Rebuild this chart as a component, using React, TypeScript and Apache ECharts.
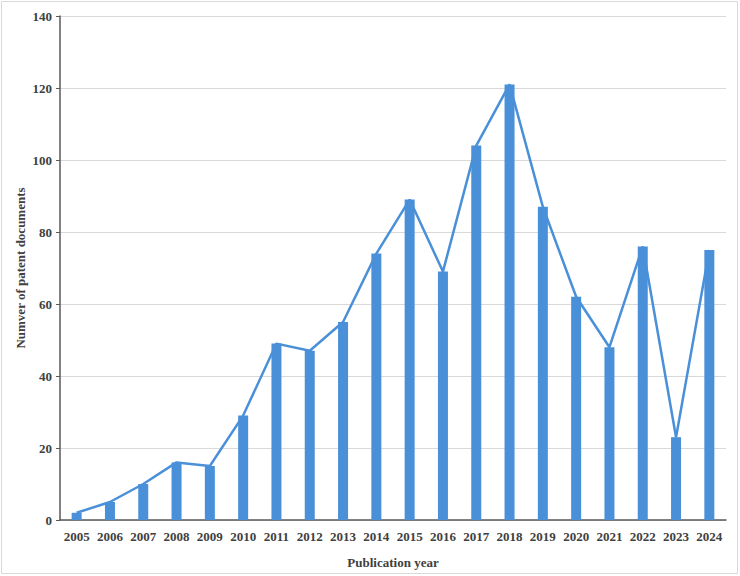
import React, { useEffect, useRef } from "react";
import * as echarts from "echarts";

const years = ["2005","2006","2007","2008","2009","2010","2011","2012","2013","2014","2015","2016","2017","2018","2019","2020","2021","2022","2023","2024"];
const counts = [2, 5, 10, 16, 15, 29, 49, 47, 55, 74, 89, 69, 104, 121, 87, 62, 48, 76, 23, 75];

const FONT = "Liberation Serif";
const BLUE = "#4a90d9";

export default function App() {
  const ref = useRef<HTMLDivElement>(null);
  useEffect(() => {
    const chart = echarts.init(ref.current!, null, { renderer: "svg" });
    chart.setOption({
      animation: false,
      backgroundColor: "#ffffff",
      graphic: [
        {
          type: "rect",
          shape: { x: 1.5, y: 1.5, width: 736, height: 572 },
          style: { fill: "none", stroke: "#d9d9d9", lineWidth: 1 },
          silent: true,
        },
      ],
      grid: { left: 60, right: 14, top: 16, bottom: 56 },
      xAxis: {
        type: "category",
        data: years,
        name: "Publication year",
        nameLocation: "middle",
        nameGap: 36,
        nameTextStyle: { fontFamily: FONT, fontWeight: "bold", fontSize: 13, color: "#404040" },
        axisLine: { lineStyle: { color: "#595959", width: 1.5 } },
        axisTick: { show: false },
        axisLabel: { interval: 0, fontFamily: FONT, fontWeight: "bold", fontSize: 13, color: "#404040", margin: 10 },
      },
      yAxis: {
        type: "value",
        min: 0,
        max: 140,
        interval: 20,
        name: "Numver of patent documents",
        nameLocation: "middle",
        nameGap: 33,
        nameMoveOverlap: false,
        nameTextStyle: { fontFamily: FONT, fontWeight: "bold", fontSize: 13, color: "#404040" },
        axisLine: { show: true, lineStyle: { color: "#595959", width: 1.5 } },
        axisTick: { show: true, length: 4, lineStyle: { color: "#595959" } },
        axisLabel: { fontFamily: FONT, fontWeight: "bold", fontSize: 13, color: "#404040", margin: 8 },
        splitLine: { lineStyle: { color: "#d9d9d9", width: 1 } },
      },
      series: [
        {
          type: "bar",
          data: counts,
          barWidth: 10,
          itemStyle: { color: BLUE },
        },
        {
          type: "line",
          data: counts,
          symbol: "none",
          lineStyle: { color: BLUE, width: 2.5 },
          itemStyle: { color: BLUE },
        },
      ],
    });
    return () => chart.dispose();
  }, []);
  return <div ref={ref} style={{ position: "absolute", left: 0, top: 0, width: 740, height: 576 }} />;
}
